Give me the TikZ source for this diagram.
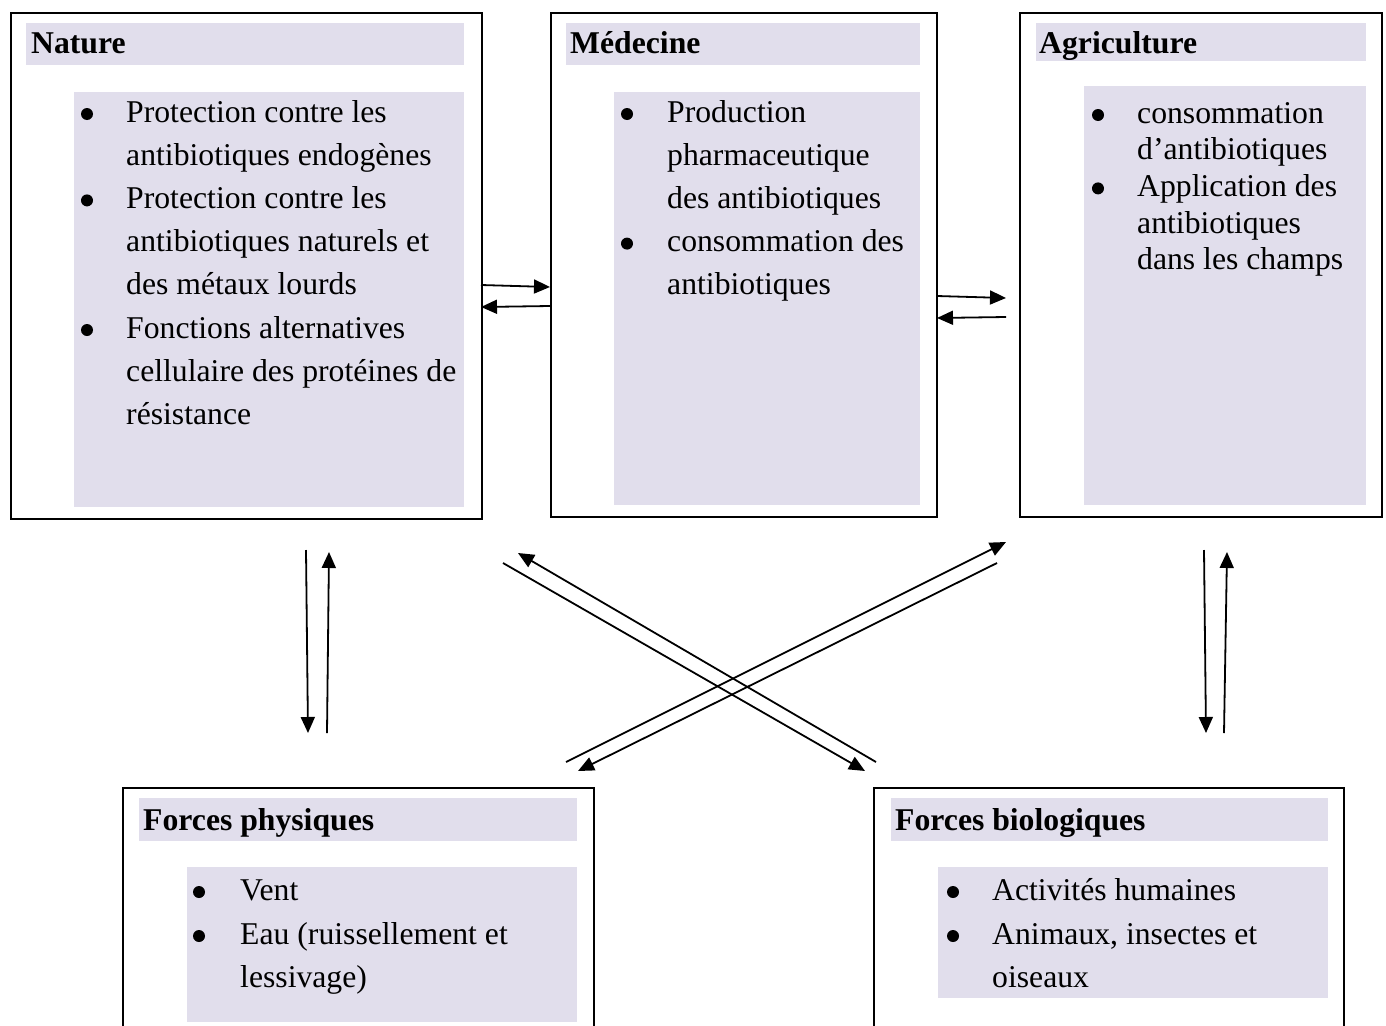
\documentclass[tikz,border=0pt]{standalone}
\usepackage{fontspec}
\setmainfont{Liberation Serif}
\usetikzlibrary{arrows.meta}
\definecolor{lav}{RGB}{225,222,236}
\newcommand\mybody{\fontsize{31.7}{43}\selectfont}
\newcommand\mytitle{\fontsize{31.7}{43}\selectfont\bfseries}
\tikzset{
  outerbox/.style={draw, line width=1.8pt, anchor=north west, inner sep=0pt},
  band/.style={fill=lav, anchor=north west, inner sep=0pt},
  bodytxt/.style={font=\mybody, anchor=base west, inner sep=0pt},
  titletxt/.style={font=\mytitle, anchor=base west, inner sep=0pt},
  arr/.style={line width=1.8pt, -{Triangle[length=16pt,width=14pt]}},
  bul/.style={fill=black}
}
\begin{document}
\begin{tikzpicture}[x=1pt,y=-1pt]
\useasboundingbox (0,0) rectangle (1386,1025);
\clip (0,0) rectangle (1386,1025);

% ---- Nature ----
\node[outerbox, minimum width=471pt, minimum height=506pt] (nat) at (10,12) {};
\node[band, minimum width=438pt, minimum height=42pt] (natT) at (26,23) {};
\node[band, minimum width=390pt, minimum height=415pt] (natC) at (74,92) {};
\node[titletxt] (natTt) at (31,53) {Nature};
\fill[bul] (87,114) circle[radius=6pt];
\fill[bul] (87,200.4) circle[radius=6pt];
\fill[bul] (87,330) circle[radius=6pt];
\node[bodytxt] (n1) at (126,122) {Protection contre les};
\node[bodytxt] (n2) at (126,165.2) {antibiotiques endogènes};
\node[bodytxt] (n3) at (126,208.4) {Protection contre les};
\node[bodytxt] (n4) at (126,251.6) {antibiotiques naturels et};
\node[bodytxt] (n5) at (126,294.8) {des métaux lourds};
\node[bodytxt] (n6) at (126,338) {Fonctions alternatives};
\node[bodytxt] (n7) at (126,381.2) {cellulaire des protéines de};
\node[bodytxt] (n8) at (126,424.4) {résistance};

% ---- Medecine ----
\node[outerbox, minimum width=386pt, minimum height=504pt] (med) at (550,12) {};
\node[band, minimum width=354pt, minimum height=42pt] (medT) at (566,23) {};
\node[band, minimum width=306pt, minimum height=413pt] (medC) at (614,92) {};
\node[titletxt] (medTt) at (570,53) {Médecine};
\fill[bul] (627,114) circle[radius=6pt];
\fill[bul] (627,243.6) circle[radius=6pt];
\node[bodytxt] (m1) at (667,122) {Production};
\node[bodytxt] (m2) at (667,165.2) {pharmaceutique};
\node[bodytxt] (m3) at (667,208.4) {des antibiotiques};
\node[bodytxt] (m4) at (667,251.6) {consommation des};
\node[bodytxt] (m5) at (667,294.8) {antibiotiques};

% ---- Agriculture ----
\node[outerbox, minimum width=362pt, minimum height=504pt] (agr) at (1019,12) {};
\node[band, minimum width=330pt, minimum height=38pt] (agrT) at (1036,23) {};
\node[band, minimum width=282pt, minimum height=419pt] (agrC) at (1084,86) {};
\node[titletxt] (agrTt) at (1039,53) {Agriculture};
\fill[bul] (1098,115) circle[radius=6pt];
\fill[bul] (1098,188.4) circle[radius=6pt];
\node[bodytxt] (a1) at (1137,123) {consommation};
\node[bodytxt] (a2) at (1137,159.7) {d’antibiotiques};
\node[bodytxt] (a3) at (1137,196.4) {Application des};
\node[bodytxt] (a4) at (1137,233.1) {antibiotiques};
\node[bodytxt] (a5) at (1137,269.8) {dans les champs};

% ---- Forces physiques ----
\node[outerbox, minimum width=471pt, minimum height=260pt] (phy) at (122,787) {};
\node[band, minimum width=438pt, minimum height=43pt] (phyT) at (139,798) {};
\node[band, minimum width=390pt, minimum height=155pt] (phyC) at (187,867) {};
\node[titletxt] (phyTt) at (143,830) {Forces physiques};
\fill[bul] (199,892) circle[radius=6pt];
\fill[bul] (199,936) circle[radius=6pt];
\node[bodytxt] (p1) at (240,900) {Vent};
\node[bodytxt] (p2) at (240,944) {Eau (ruissellement et};
\node[bodytxt] (p3) at (240,987) {lessivage)};

% ---- Forces biologiques ----
\node[outerbox, minimum width=470pt, minimum height=260pt] (bio) at (873,787) {};
\node[band, minimum width=437pt, minimum height=43pt] (bioT) at (891,798) {};
\node[band, minimum width=390pt, minimum height=131pt] (bioC) at (938,867) {};
\node[titletxt] (bioTt) at (895,830) {Forces biologiques};
\fill[bul] (953,892) circle[radius=6pt];
\fill[bul] (953,936) circle[radius=6pt];
\node[bodytxt] (b1) at (992,900) {Activités humaines};
\node[bodytxt] (b2) at (992,944) {Animaux, insectes et};
\node[bodytxt] (b3) at (992,987) {oiseaux};

% ---- connector end points ----
\coordinate (nmA1) at (481,285); \coordinate (nmA2) at (550,287);
\coordinate (nmB1) at (550,306); \coordinate (nmB2) at (481,307);
\coordinate (maA1) at (937,296); \coordinate (maA2) at (1006,298);
\coordinate (maB1) at (1006,317); \coordinate (maB2) at (937,318);
\coordinate (vlD1) at (306,550); \coordinate (vlD2) at (308,733);
\coordinate (vlU1) at (327,733); \coordinate (vlU2) at (329,552);
\coordinate (vrD1) at (1204,550); \coordinate (vrD2) at (1206,733);
\coordinate (vrU1) at (1224,733); \coordinate (vrU2) at (1227,552);
\coordinate (d1s) at (503,563); \coordinate (d1e) at (865,771);
\coordinate (d2s) at (876,762); \coordinate (d2e) at (518,553);
\coordinate (d3s) at (566,762); \coordinate (d3e) at (1006,542);
\coordinate (d4s) at (997,563); \coordinate (d4e) at (578,771);

\draw[arr] (nmA1) -- (nmA2);
\draw[arr] (nmB1) -- (nmB2);
\draw[arr] (maA1) -- (maA2);
\draw[arr] (maB1) -- (maB2);
\draw[arr] (vlD1) -- (vlD2);
\draw[arr] (vlU1) -- (vlU2);
\draw[arr] (vrD1) -- (vrD2);
\draw[arr] (vrU1) -- (vrU2);
\draw[arr] (d1s) -- (d1e);
\draw[arr] (d2s) -- (d2e);
\draw[arr] (d3s) -- (d3e);
\draw[arr] (d4s) -- (d4e);
\end{tikzpicture}
\end{document}
